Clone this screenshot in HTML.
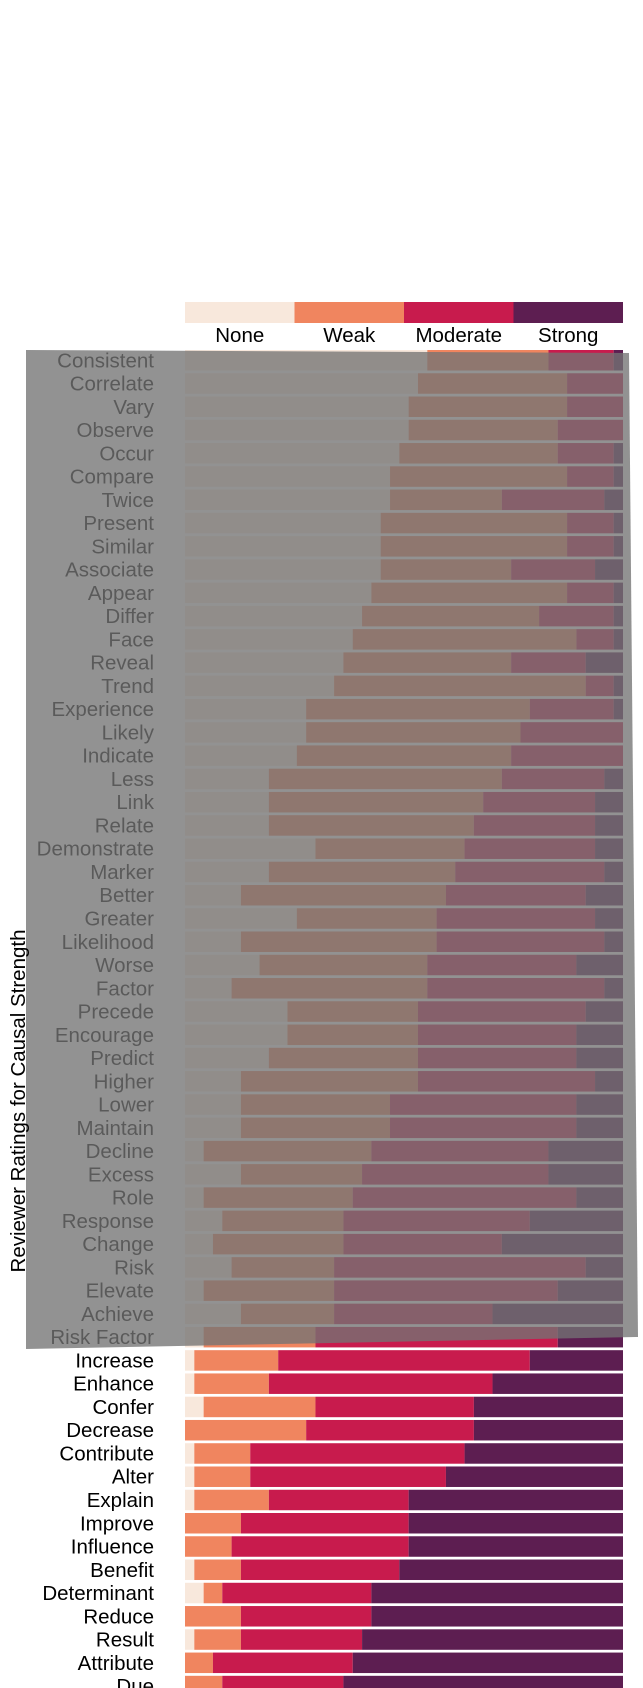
<!DOCTYPE html>
<html><head><meta charset="utf-8"><style>
html,body{margin:0;padding:0;background:#fff;width:643px;height:1688px;overflow:hidden}
svg{display:block}
text{font-family:"Liberation Sans",Arial,sans-serif}
</style></head><body>
<svg id="chart" width="643" height="1688" viewBox="0 0 643 1688" xmlns="http://www.w3.org/2000/svg">
<g id="legend"></g>
<g id="bars"></g>
<g id="labels"></g>
<polygon points="26,350 629,353 638,1337 26,1349" fill="rgb(115,115,115)" fill-opacity="0.78"/>
<text transform="translate(25,1101) rotate(-90)" text-anchor="middle" font-size="20.5" fill="#000">Reviewer Ratings for Causal Strength</text>
</svg>
<script>
const categories = ["Consistent","Correlate","Vary","Observe","Occur","Compare","Twice","Present","Similar","Associate","Appear","Differ","Face","Reveal","Trend","Experience","Likely","Indicate","Less","Link","Relate","Demonstrate","Marker","Better","Greater","Likelihood","Worse","Factor","Precede","Encourage","Predict","Higher","Lower","Maintain","Decline","Excess","Role","Response","Change","Risk","Elevate","Achieve","Risk Factor","Increase","Enhance","Confer","Decrease","Contribute","Alter","Explain","Improve","Influence","Benefit","Determinant","Reduce","Result","Attribute","Due"];
const noneVals = [26,25,24,24,23,22,22,21,21,21,20,19,18,17,16,13,13,12,9,9,9,14,9,6,12,6,8,5,11,11,9,6,6,6,2,6,2,4,3,5,2,6,2,1,1,2,0,1,1,1,0,0,1,2,0,1,0,0];
const weakVals = [13,16,17,16,17,19,12,20,20,14,21,19,24,18,27,24,23,23,25,23,22,16,20,22,15,21,18,21,14,14,16,19,16,16,18,13,16,13,14,11,14,10,12,9,8,12,13,6,6,8,6,5,5,2,6,5,3,4];
const moderateVals = [7,6,6,7,6,5,11,5,5,9,5,8,4,8,3,9,11,12,11,12,13,14,16,15,17,18,16,19,18,17,17,19,20,20,19,20,24,20,17,27,24,17,26,27,24,17,18,23,21,15,18,19,17,16,14,13,15,13];
const strongVals = [1,0,0,0,1,1,2,1,1,3,1,1,1,4,1,1,0,0,2,3,3,3,2,4,3,2,5,2,4,5,5,3,5,5,8,8,5,10,13,4,7,14,7,10,14,16,16,17,19,23,23,23,24,27,27,28,29,30];
const levels = ["None","Weak","Moderate","Strong"];
const colors = ["#f8e8dc","#f0855f","#c81b4d","#5d1e51"];

const NS="http://www.w3.org/2000/svg";
const x0=185, x1=623, y0=350, pitch=23.26, barH=20.5;
function xs(v,total){return x0+(x1-x0)*v/total;}
function rowY(i){return y0+i*pitch;}
function mk(tag,attrs,parent){const e=document.createElementNS(NS,tag);for(const k in attrs)e.setAttribute(k,attrs[k]);parent.appendChild(e);return e;}

const bars=document.getElementById('bars');
const labels=document.getElementById('labels');
categories.forEach((c,i)=>{
  const vals=[noneVals[i],weakVals[i],moderateVals[i],strongVals[i]];
  const total=vals.reduce((a,b)=>a+b,0);
  let cum=0;
  vals.forEach((v,k)=>{
    if(v>0){
      const r=mk('rect',{x:xs(cum,total),y:rowY(i),width:xs(cum+v,total)-xs(cum,total),height:barH,fill:colors[k]},bars);
      
      
    }
    cum+=v;
  });
  const t=mk('text',{x:154,y:rowY(i)+barH/2+7,'text-anchor':'end','font-size':'20.5',fill:'#000'},labels);
  t.textContent=c;
  
  
});

const legend=document.getElementById('legend');
const lw=(x1-x0)/4;
levels.forEach((l,k)=>{
  const r=mk('rect',{x:x0+k*lw,y:302,width:lw,height:21,fill:colors[k]},legend);
  
  
  const t=mk('text',{x:x0+k*lw+lw/2,y:342,'text-anchor':'middle','font-size':'20.5',fill:'#000'},legend);
  t.textContent=l;
  
  
});
</script>
</body></html>
